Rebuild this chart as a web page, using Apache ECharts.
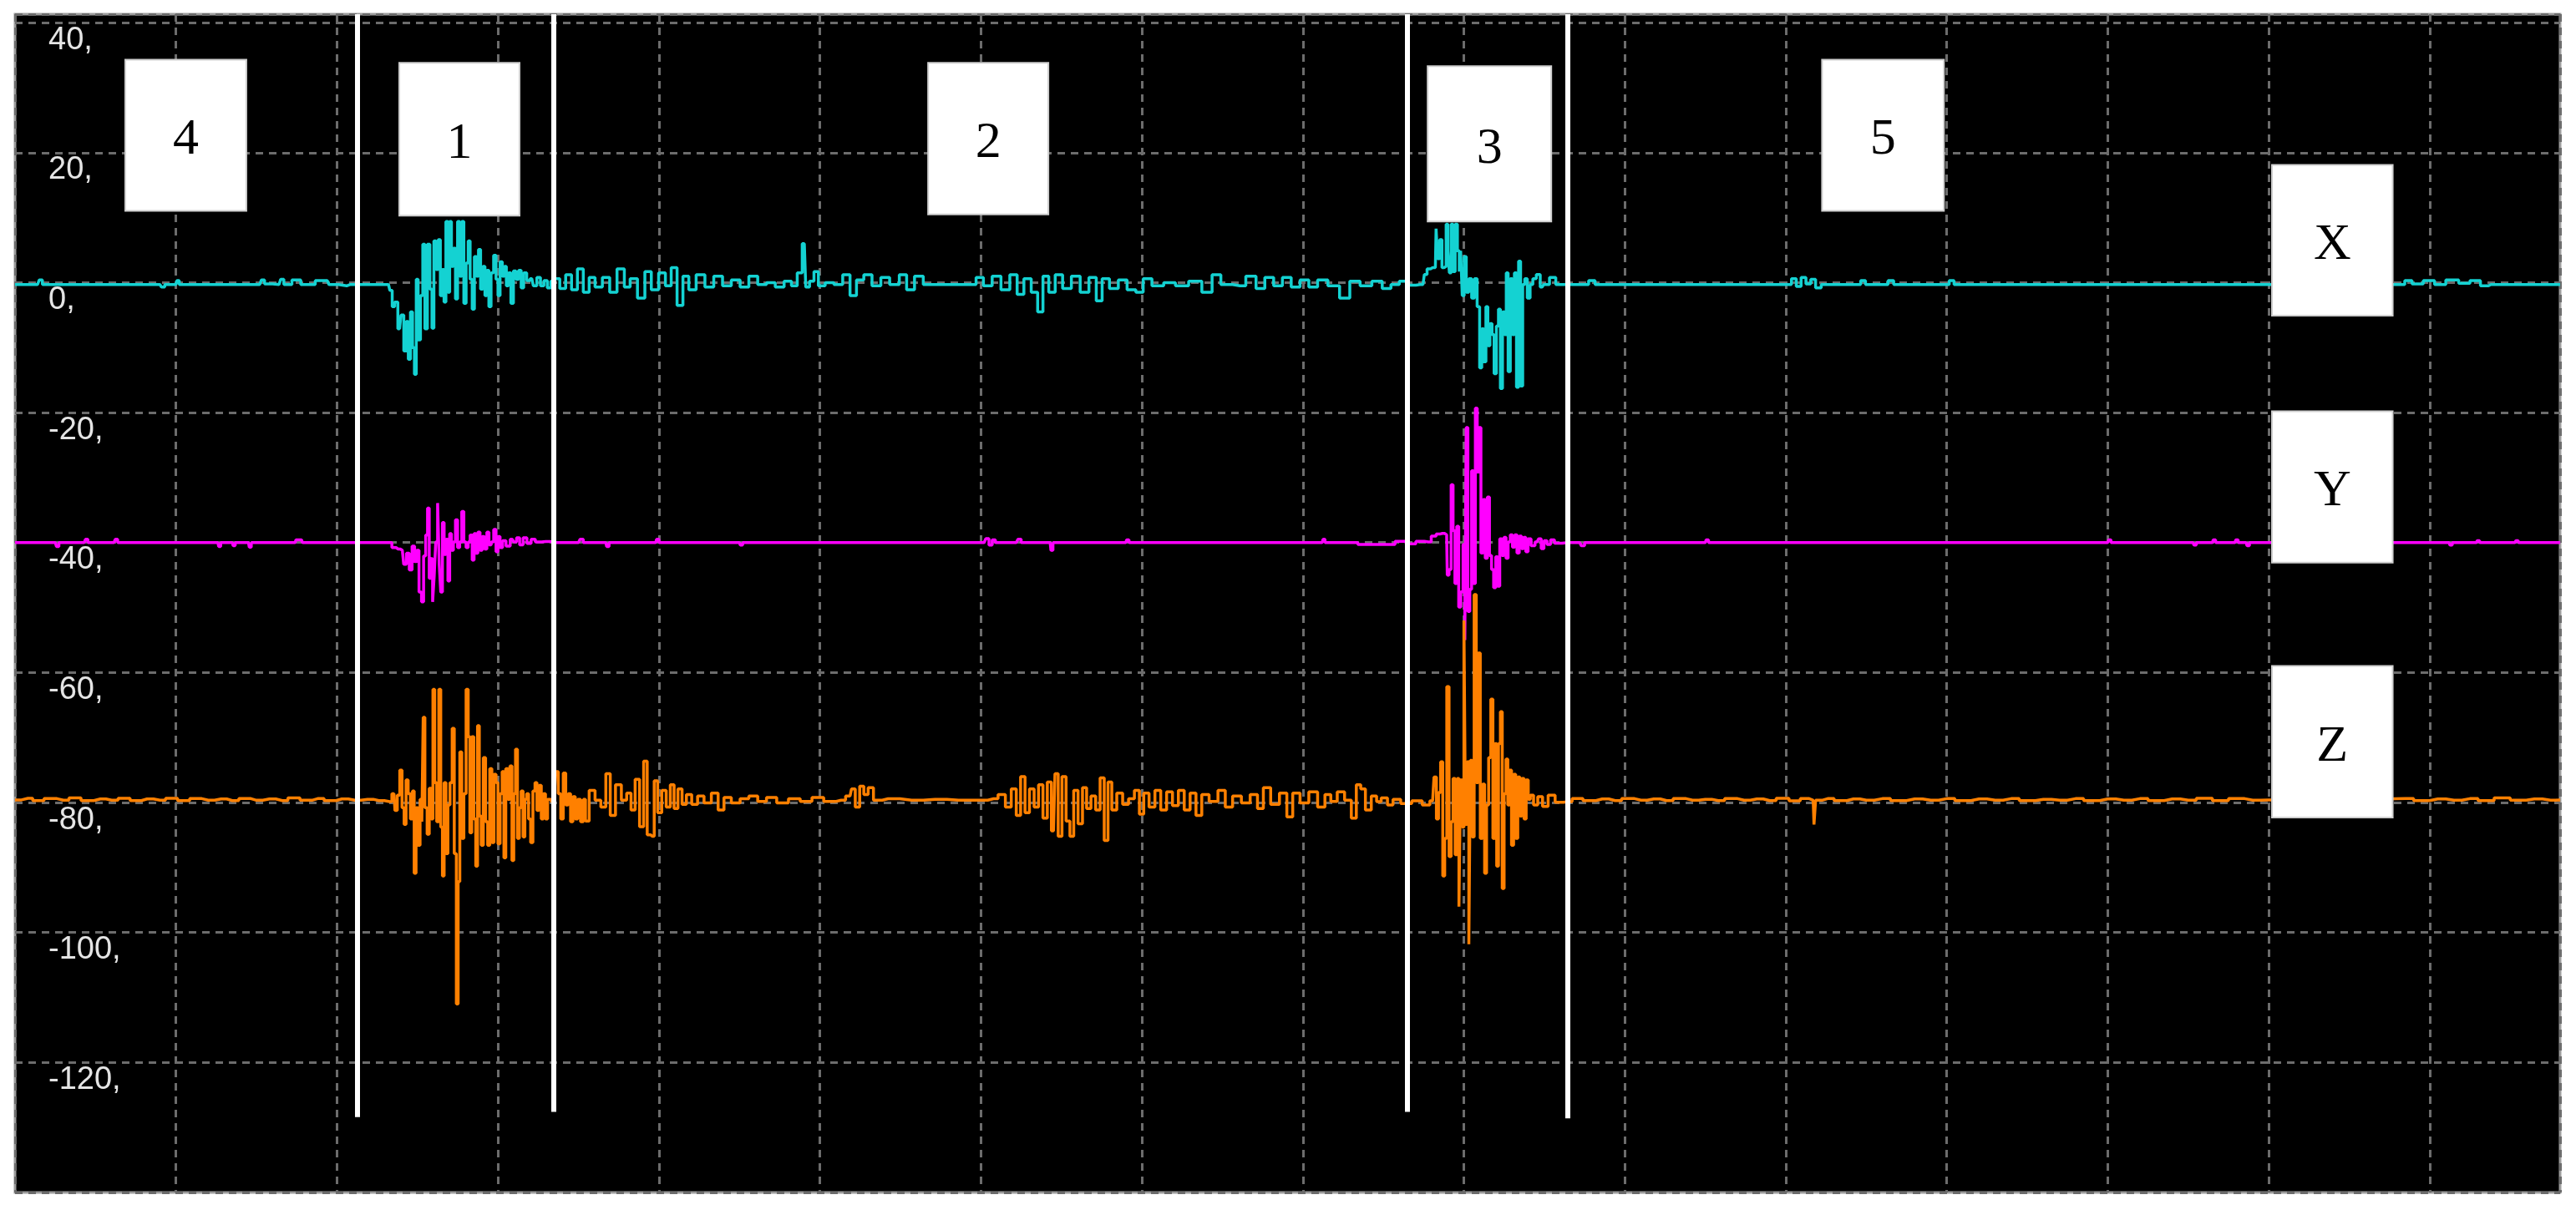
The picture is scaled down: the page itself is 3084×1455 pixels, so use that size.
<!DOCTYPE html>
<html><head><meta charset="utf-8">
<script src="https://cdn.jsdelivr.net/npm/echarts/dist/echarts.min.js"></script>
<style>html,body{margin:0;padding:0;background:#fff}#c{width:3084px;height:1455px}</style>
</head><body><div id="c"></div>
<script>
// Y axis tick values (labels are drawn with a trailing comma)
const yTicks = [40, 20, 0, -20, -40, -60, -80, -100, -120];

// X channel (cyan) : [time, value]
const sigX = [
[0,-0.3],[1.4,-0.3],[1.6,0.4],[1.8,-0.3],[9.0,-0.3],[9.2,-0.7],[9.4,-0.3],[10.0,-0.3],[10.1,0.3],[10.3,-0.3],[15.2,-0.3],[15.4,0.4],[15.6,-0.2],[16.4,-0.3],[16.6,0.5],[16.8,-0.3],[17.6,0.4],[17.9,-0.3],[19.4,0.3],[19.6,-0.3],[20.6,-0.5],[20.8,-0.3],[23.2,-0.3],
[23.37,-1.2],[23.49,-3.7],[23.67,-3.0],[23.89,-7.1],[24.06,-5.0],[24.24,-10.5],[24.36,-6.0],[24.5,-11.8],[24.63,-4.5],[24.75,-10.0],[24.87,-14.1],[24.98,0.5],[25.1,-8.8],[25.27,-2.0],[25.39,5.9],[25.53,-7.1],[25.7,5.9],[25.84,-1.0],[25.96,-7.0],[26.08,6.4],[26.22,2.0],[26.36,6.6],[26.48,-2.0],[26.6,2.0],[26.7,-3.0],[26.83,9.4],[26.95,-1.5],[27.05,9.4],[27.17,2.5],[27.29,5.3],[27.43,-2.5],[27.55,9.4],[27.69,1.0],[27.81,9.4],[27.95,-3.2],[28.09,3.0],[28.21,6.4],[28.33,0.5],[28.47,-4.1],[28.6,4.0],[28.73,1.0],[28.85,5.1],[28.99,-1.0],[29.13,2.5],[29.25,-2.0],[29.37,1.9],[29.5,-3.7],[29.64,1.5],[29.82,4.2],[29.94,0.5],[30.06,-2.0],[30.2,3.2],[30.34,1.0],[30.46,2.5],[30.58,-0.5],[30.72,1.5],[30.89,-3.2],[31.03,1.8],[31.2,0.5],[31.37,1.9],[31.51,-0.8],[31.68,1.5],[31.89,0.3],[32.1,0.6],[32.3,-0.5],[32.53,0.8],[32.75,-0.5],[32.96,0.3],[33.17,-0.8],[33.39,0.2],
[33.66,0.6],[34.02,-0.9],[34.39,1.2],[34.75,-1.1],[35.12,2.1],[35.48,-1.5],[35.85,0.8],[36.21,-0.7],[36.76,0.8],[37.12,-1.5],[37.67,2.1],[38.03,-0.7],[38.39,0.6],[38.94,-2.4],[39.31,1.7],[39.74,-1.1],[40.22,1.5],[40.58,-0.5],[40.94,2.3],[41.31,-3.5],[41.67,1.0],[42.04,-1.1],[42.58,1.2],[43.13,-0.7],[43.68,1.0],[44.22,-0.5],[44.77,0.4],[45.31,-0.7],[45.86,1.0],[46.41,-0.3],[46.95,0.0],[47.5,-0.7],[48.05,0.2],[48.41,-0.5],[48.77,1.5],[49.03,6.0],[49.21,-0.7],[49.5,0.2],[49.76,1.7],[50.05,-0.5],[50.6,0.0],[51.14,-0.3],[51.69,1.2],[52.05,-2.0],[52.49,0.4],[52.96,1.2],[53.51,-0.5],[54.06,0.8],[54.6,-0.3],[55.26,1.2],[55.51,-1.1],[56.24,1.0],[56.6,-0.3],[59.52,-0.3],[59.88,0.8],[60.43,-0.5],[60.97,1.0],[61.52,-1.1],[62.07,1.2],[62.43,-1.8],[62.91,0.6],[63.34,-1.5],[63.71,-4.5],[64.0,1.0],[64.43,-1.5],[64.8,1.2],[65.35,-0.9],[65.89,1.0],[66.44,-1.5],[66.98,0.8],[67.35,-2.8],[67.71,0.6],[68.26,-0.9],[68.81,0.4],[69.35,-1.1],[69.9,-1.5],[70.26,0.6],[70.99,-0.5],[71.72,0.0],[72.45,-0.5],[73.36,0.2],[74.09,-1.5],[74.63,1.2],[75.18,-0.3],[76.09,-0.5],[76.82,1.0],[77.36,-0.9],[77.91,0.8],[78.46,-0.5],[79.0,0.8],[79.55,-0.7],[80.1,0.4],[80.64,-0.7],[81.19,0.4],[81.92,-0.5],[82.64,-2.4],[83.19,0.2],[83.92,-0.5],[84.65,0.2],[85.21,-0.9],[85.73,-0.3],[86.25,0.2],[86.76,-0.4],[87.28,-0.3],[87.46,-0.3],
[87.63,1.25],[87.8,2.1],[88.06,2.3],[88.23,2.3],[88.32,8.3],[88.42,3.7],[88.58,6.6],[88.7,2.3],[88.84,2.5],[88.96,9.0],[89.05,4.9],[89.15,1.5],[89.27,9.0],[89.39,1.7],[89.53,9.0],[89.67,4.9],[89.76,1.7],[89.84,4.9],[89.96,-2.0],[90.08,4.0],[90.22,-1.5],[90.4,0.6],[90.57,-2.4],[90.74,0.6],[90.91,-3.7],[91.05,-13.1],[91.17,-7.1],[91.31,-12.2],[91.43,-3.7],[91.55,-9.7],[91.69,-6.3],[91.81,-8.0],[91.95,-14.0],[92.09,-6.7],[92.21,-4.1],[92.33,-16.3],[92.47,-4.5],[92.59,-8.0],[92.68,1.5],[92.82,-13.7],[92.95,0.6],[93.08,-8.0],[93.2,1.5],[93.34,-16.1],[93.46,3.3],[93.59,-15.9],[93.72,-0.3],[93.85,0.6],[94.03,-2.4],[94.2,-0.3],[94.37,0.6],[94.63,1.25],[94.86,-0.7],[95.06,-0.3],[95.58,0.8],[95.84,-0.3],
[97.5,-0.3],[98.0,0.3],[98.3,-0.3],[110.2,-0.3],[110.5,0.6],[110.8,-0.6],[111.1,0.8],[111.4,-0.2],[111.7,0.5],[112.0,-0.8],[112.4,-0.3],[114.5,-0.3],[114.8,0.3],[115.1,-0.3],[116.2,-0.3],[116.5,0.3],[116.9,-0.3],[120.0,-0.3],[120.3,0.3],[120.6,-0.3],[148.3,-0.3],[148.6,0.3],[149.2,-0.2],[150.0,0.3],[150.6,-0.3],[151.4,0.4],[152.2,-0.1],[152.8,0.3],[153.5,-0.5],[153.8,-0.3],[158.1,-0.3]
];

// Y channel (magenta)
const sigY = [
[0,-40],[2.5,-40],[2.65,-40.6],[2.8,-40],[4.3,-40],[4.45,-39.5],[4.6,-40],[6.15,-40],[6.3,-39.5],[6.45,-40],[12.6,-40],[12.7,-40.6],[12.85,-40],[13.5,-40],[13.6,-40.5],[13.75,-40],[14.5,-40],[14.6,-40.7],[14.75,-40],[17.4,-40],[17.5,-39.6],[17.8,-39.6],[17.9,-40],[23.28,-40],
[23.54,-40.77],[23.8,-40.99],[24.06,-41.2],[24.23,-43.34],[24.4,-41.63],[24.58,-44.2],[24.75,-40.56],[24.89,-42.91],[25.01,-41.2],[25.18,-47.63],[25.32,-49.13],[25.44,-42.06],[25.58,-38.84],[25.67,-34.69],[25.79,-45.48],[25.88,-42.49],[26.0,-49.13],[26.08,-45.06],[26.19,-39.91],[26.31,-33.92],[26.39,-43.34],[26.5,-47.63],[26.6,-36.92],[26.71,-41.84],[26.83,-39.49],[26.95,-45.91],[27.05,-38.63],[27.17,-41.2],[27.29,-39.91],[27.43,-36.49],[27.55,-40.77],[27.69,-39.91],[27.81,-35.2],[27.95,-39.91],[28.09,-40.77],[28.21,-39.91],[28.33,-38.84],[28.47,-42.7],[28.56,-38.63],[28.68,-41.63],[28.82,-38.41],[28.95,-41.2],[29.08,-39.07],[29.25,-40.99],[29.37,-38.41],[29.51,-40.34],[29.65,-39.91],[29.82,-37.99],[29.94,-41.41],[30.06,-39.07],[30.2,-40.77],[30.37,-39.7],[30.63,-40.56],[30.89,-39.49],[31.07,-39.91],[31.24,-39.27],[31.45,-40.34],[31.67,-39.27],[31.93,-40.13],[32.19,-39.49],[32.45,-39.91],[32.97,-39.83],[33.49,-40],
[35.0,-40],[35.2,-39.5],[35.4,-40],[36.7,-40],[36.8,-40.6],[37.0,-40],[39.8,-40],[39.9,-39.5],[40.1,-40],[45.0,-40],[45.1,-40.4],[45.3,-40],[60.2,-40],[60.4,-39.4],[60.6,-40.4],[60.8,-39.6],[61.0,-40],[62.2,-40],[62.4,-39.5],[62.6,-40],[64.3,-40],[64.4,-41.2],[64.55,-40],[69.0,-40],[69.1,-39.6],[69.3,-40],[81.2,-40],[81.3,-39.5],[81.45,-40],
[85.38,-40.3],[86.07,-39.8],[86.76,-40.2],[87.28,-39.8],[87.8,-39.9],[88.15,-39.0],[88.41,-38.67],[88.67,-38.59],[88.93,-38.8],[89.01,-45.0],[89.15,-44.16],[89.27,-31.09],[89.39,-38.16],[89.5,-46.3],[89.62,-37.5],[89.74,-49.94],[89.88,-47.58],[90.02,-40.3],[90.1,-55.0],[90.19,-22.3],[90.31,-50.6],[90.43,-47.2],[90.53,-28.95],[90.65,-46.3],[90.78,-19.3],[90.88,-29.16],[91.0,-22.3],[91.12,-41.6],[91.26,-33.4],[91.4,-42.4],[91.52,-33.0],[91.66,-42.0],[91.78,-44.16],[91.92,-46.94],[92.04,-42.2],[92.16,-46.7],[92.3,-39.44],[92.42,-42.0],[92.56,-39.2],[92.68,-42.4],[92.82,-39.9],[92.95,-38.8],[93.09,-40.7],[93.23,-38.8],[93.37,-41.6],[93.51,-39.0],[93.65,-40.94],[93.78,-39.2],[93.92,-41.4],[94.06,-39.44],[94.29,-40.5],[94.55,-39.9],[94.72,-39.44],[94.89,-40.94],[95.06,-39.7],[95.27,-40.3],[95.5,-39.6],[95.76,-40.1],[96.45,-40],
[97.2,-40],[97.4,-40.5],[97.6,-40],[105.0,-40],[105.1,-39.6],[105.3,-40],[130.0,-40],[130.1,-39.6],[130.3,-40],[135.3,-40],[135.4,-40.4],[135.6,-40],[136.5,-40],[136.6,-39.6],[136.8,-40],[137.9,-40],[138.0,-39.6],[138.2,-40],[138.6,-40],[138.7,-40.5],[138.9,-40],[151.2,-40],[151.3,-40.4],[151.5,-40],[152.9,-40],[153.0,-39.7],[153.2,-40],[155.3,-40],[155.4,-39.7],[155.6,-40],[158.1,-40]
];

// Z channel (orange)
const sigZ = [
[0,-79.6],[0.8,-79.35],[1.4,-79.7],[2.2,-79.4],[3.0,-79.65],[3.7,-79.3],[4.5,-79.7],[5.3,-79.45],[6.0,-79.65],[6.8,-79.35],[7.5,-79.7],[8.2,-79.45],[9.0,-79.65],[9.7,-79.35],[10.5,-79.7],[11.2,-79.4],[12.0,-79.65],[12.8,-79.45],[13.5,-79.7],[14.3,-79.4],[15.0,-79.65],[15.8,-79.45],[16.6,-79.7],[17.3,-79.3],[18.1,-79.65],[18.8,-79.4],[19.6,-79.7],[20.3,-79.45],[21.1,-79.65],[21.9,-79.5],[22.6,-79.7],[23.28,-79.86],
[23.54,-78.66],[23.66,-81.23],[23.83,-78.87],[23.97,-75.02],[24.11,-80.8],[24.23,-83.37],[24.35,-76.52],[24.49,-78.66],[24.63,-82.52],[24.75,-78.23],[24.84,-90.87],[24.98,-80.8],[25.1,-86.59],[25.22,-79.52],[25.32,-82.94],[25.39,-66.88],[25.53,-80.8],[25.67,-84.87],[25.79,-77.8],[25.91,-82.52],[26.01,-62.59],[26.13,-76.95],[26.26,-82.94],[26.39,-62.59],[26.5,-83.8],[26.6,-91.3],[26.71,-76.95],[26.83,-87.87],[26.95,-80.37],[27.09,-76.95],[27.22,-68.59],[27.35,-87.87],[27.48,-111.0],[27.57,-92.16],[27.69,-72.23],[27.81,-85.52],[27.95,-78.66],[28.09,-62.59],[28.21,-69.88],[28.3,-84.66],[28.44,-69.88],[28.56,-82.52],[28.68,-89.8],[28.78,-68.16],[28.9,-82.09],[29.02,-86.59],[29.16,-73.09],[29.3,-82.94],[29.42,-86.59],[29.56,-74.8],[29.68,-86.16],[29.82,-75.66],[29.94,-76.95],[30.06,-86.37],[30.2,-78.66],[30.32,-75.23],[30.42,-88.51],[30.55,-74.8],[30.68,-79.52],[30.81,-74.38],[30.93,-88.94],[31.03,-78.66],[31.15,-71.8],[31.27,-85.52],[31.38,-80.8],[31.5,-78.23],[31.62,-85.3],[31.72,-79.52],[31.84,-78.66],[31.96,-82.52],[32.1,-86.16],[32.24,-78.23],[32.36,-76.95],[32.48,-81.23],[32.62,-77.37],[32.76,-82.52],[32.88,-78.66],[33.02,-82.52],[33.14,-79.52],[33.49,-79.86],[33.66,-75.23],[33.83,-78.66],[33.97,-82.52],[34.14,-75.45],[34.28,-80.37],[34.44,-78.66],[34.58,-82.94],[34.73,-79.09],[34.87,-82.52],[35.04,-79.52],[35.22,-82.94],[35.39,-79.52],
[35.48,-82.85],[35.85,-78.14],[36.21,-79.64],[36.57,-80.71],[36.83,-75.57],[37.12,-81.99],[37.48,-77.28],[37.85,-79.64],[38.14,-78.56],[38.39,-81.14],[38.65,-76.42],[38.94,-83.71],[39.16,-73.64],[39.38,-84.99],[39.6,-85.21],[39.81,-76.64],[40.03,-81.56],[40.32,-78.14],[40.58,-80.71],[40.83,-77.28],[41.05,-80.92],[41.31,-77.92],[41.56,-80.28],[41.85,-78.78],[42.22,-80.28],[42.58,-78.99],[43.02,-80.06],[43.49,-78.56],[43.86,-81.14],[44.22,-79.21],[44.77,-80.06],[45.31,-79.42],[45.86,-78.99],[46.41,-79.85],[46.95,-79.21],[47.68,-80.06],[48.41,-79.42],[49.14,-79.85],[49.87,-79.21],[50.6,-79.85],[51.32,-79.64],[51.87,-78.99],[52.05,-77.92],[52.34,-80.71],[52.6,-77.49],[52.85,-78.78],[53.14,-77.71],[53.51,-79.64],[54.24,-79.42],[55.69,-79.64],[57.15,-79.51],[58.61,-79.64],[60.06,-79.64],[60.79,-79.42],[61.34,-78.78],[61.7,-80.71],[62.07,-77.92],[62.32,-81.99],[62.61,-76.0],[62.87,-81.56],[63.16,-77.92],[63.45,-80.71],[63.71,-77.28],[64.0,-82.42],[64.25,-76.85],[64.51,-84.35],[64.69,-75.57],[64.91,-85.21],[65.16,-76.0],[65.42,-82.85],[65.64,-85.21],[65.89,-78.14],[66.18,-83.28],[66.44,-77.71],[66.69,-80.92],[66.98,-78.99],[67.28,-81.14],[67.53,-76.21],[67.79,-85.85],[68.0,-76.85],[68.26,-81.14],[68.62,-78.56],[68.99,-80.28],[69.35,-79.42],[69.72,-78.14],[69.97,-81.78],[70.26,-78.56],[70.63,-80.71],[70.99,-78.14],[71.35,-81.14],[71.72,-78.35],[72.08,-80.49],[72.45,-78.14],[72.81,-81.14],[73.18,-78.56],[73.54,-81.99],[73.9,-78.78],[74.45,-79.85],[75.0,-78.14],[75.36,-80.71],[75.91,-78.99],[76.45,-80.06],[77.0,-78.78],[77.36,-80.92],[77.73,-77.71],[78.27,-80.28],[78.82,-78.56],[79.19,-82.21],[79.55,-78.56],[80.1,-80.06],[80.64,-78.35],[81.19,-80.71],[81.55,-78.78],[81.92,-79.85],[82.35,-78.35],[82.83,-79.64],[83.19,-82.42],[83.45,-77.28],[83.74,-77.92],[84.03,-81.14],[84.47,-78.99],
[84.69,-79.86],[85.04,-79.3],[85.47,-80.37],[85.73,-79.52],[86.42,-80.16],[87.11,-79.73],[87.72,-80.37],[88.06,-79.73],[88.23,-76.09],[88.36,-82.52],[88.49,-78.45],[88.63,-73.73],[88.75,-91.3],[88.87,-85.52],[89.01,-62.17],[89.15,-88.3],[89.27,-82.94],[89.39,-76.3],[89.53,-88.04],[89.65,-76.3],[89.74,-96.01],[89.84,-76.52],[89.96,-83.8],[90.05,-52.0],[90.15,-83.37],[90.26,-73.73],[90.36,-101.8],[90.45,-73.52],[90.57,-85.3],[90.71,-48.0],[90.83,-76.95],[90.95,-57.0],[91.09,-85.52],[91.23,-77.16],[91.35,-90.87],[91.47,-80.37],[91.61,-73.09],[91.74,-64.09],[91.87,-85.52],[91.99,-70.95],[92.09,-89.8],[92.21,-70.95],[92.33,-66.02],[92.44,-93.23],[92.56,-78.66],[92.68,-73.3],[92.78,-80.37],[92.9,-75.02],[93.02,-86.59],[93.16,-75.66],[93.28,-85.52],[93.42,-76.09],[93.54,-82.09],[93.68,-76.3],[93.8,-82.52],[93.94,-76.52],[94.06,-79.52],[94.2,-78.87],[94.46,-80.37],[94.72,-79.09],[95.06,-80.59],[95.41,-78.87],[95.93,-79.95],[96.45,-79.86],
[97.0,-79.4],[97.8,-79.7],[98.6,-79.45],[99.4,-79.7],[100.2,-79.4],[101.0,-79.65],[101.8,-79.45],[102.6,-79.7],[103.4,-79.4],[104.2,-79.65],[105.0,-79.5],[105.8,-79.7],[106.6,-79.4],[107.4,-79.65],[108.2,-79.45],[109.0,-79.7],[109.8,-79.35],[110.6,-79.75],[111.2,-79.4],[111.7,-79.65],[111.8,-83.4],[111.9,-79.65],[112.6,-79.4],[113.4,-79.7],[114.2,-79.45],[115.0,-79.65],[116.0,-79.4],[117.0,-79.7],[118.0,-79.45],[119.0,-79.65],[120.0,-79.4],[121.0,-79.7],[122.0,-79.45],[123.0,-79.65],[124.0,-79.4],[125.0,-79.7],[126.0,-79.5],[127.0,-79.65],[128.0,-79.4],[129.0,-79.7],[130.0,-79.45],[131.0,-79.65],[132.0,-79.4],[133.0,-79.7],[134.0,-79.45],[135.0,-79.65],[136.0,-79.35],[137.0,-79.7],[138.0,-79.4],[139.0,-79.65],[140.0,-79.6],[148.5,-79.4],[149.5,-79.7],[150.5,-79.45],[151.5,-79.65],[152.5,-79.4],[153.5,-79.7],[154.5,-79.3],[155.5,-79.65],[156.5,-79.45],[157.5,-79.65],[158.1,-79.6]
];

// Phase separators (time) and their lower ends (value)
const phaseBounds = [21.28, 33.47, 86.46, 96.42];
const phaseBoundEnds = [-128.4, -127.6, -127.6, -128.6];
// Phase labels and their box extents [t0, t1, vTop, vBottom]
const phaseLabels = ['4', '1', '2', '3', '5'];
const phaseBoxes = [[6.85,14.37,34.3,11.05],[23.87,31.34,33.8,10.3],[56.72,64.19,33.8,10.5],[87.75,95.43,33.3,9.4],[112.25,119.82,34.3,11.05]];
// Channel labels and their box extents
const channelLabels = ['X', 'Y', 'Z'];
const channelBoxes = [[140.2,147.7,18.1,-5.1],[140.2,147.7,-19.8,-43.1],[140.2,147.7,-59.0,-82.3]];

const X_MIN = 0, X_MAX = 158.1, Y_MIN = -140, Y_MAX = 41.3;

const chart = echarts.init(document.getElementById('c'), null, {renderer: 'canvas'});
const grid = {left: 18, right: 19, top: 17, bottom: 27, show: true, backgroundColor: '#000', borderColor: '#9c9c9c', borderWidth: 3};
const split = {show: true, lineStyle: {color: '#6c6c6c', width: 3, type: [9, 7]}};

function sig(name, data, color) {
  return {name, type: 'line', data, showSymbol: false, symbol: 'none', z: 2, step: 'middle',
    lineStyle: {color, width: 3.5}, itemStyle: {color}, animation: false, silent: true};
}
const boxLabelStyle = {show: true, position: 'inside', fontFamily: 'Liberation Serif', fontSize: 62, color: '#000', offset: [0, 6]};
function boxes(labels, ext) {
  return labels.map((l, i) => [
    {name: l, coord: [ext[i][0], ext[i][2]]},
    {coord: [ext[i][1], ext[i][3]]}
  ]);
}

chart.setOption({
  animation: false,
  backgroundColor: '#fff',
  grid,
  xAxis: {type: 'value', min: X_MIN, max: X_MAX, interval: 10,
    axisLine: {show: false}, axisTick: {show: false}, axisLabel: {show: false}, splitLine: split},
  yAxis: {type: 'value', min: Y_MIN, max: Y_MAX, interval: 20,
    axisLine: {show: false}, axisTick: {show: false}, splitLine: split,
    axisLabel: {inside: true, margin: 40, color: '#e4e4e4', fontFamily: 'Liberation Sans', fontSize: 38,
      verticalAlign: 'top', lineHeight: 38, padding: [2, 0, 0, 0],
      formatter: v => yTicks.indexOf(v) >= 0 ? v + ',' : ''}},
  series: [
    sig('X', sigX, '#14d2d2'),
    sig('Y', sigY, '#ff00ff'),
    sig('Z', sigZ, '#ff8000'),
    {type: 'line', data: [], z: 15, silent: true,
      markLine: {silent: true, z: 15, symbol: ['none', 'none'], animation: false, label: {show: false},
        lineStyle: {color: '#ffffff', width: 6, type: 'solid'},
        data: phaseBounds.map((t, i) => [{coord: [t, Y_MAX]}, {coord: [t, phaseBoundEnds[i]]}])}},
    {type: 'line', data: [], z: 20, silent: true,
      markArea: {silent: true, z: 20, animation: false,
        itemStyle: {color: '#ffffff', opacity: 1, borderColor: '#cfcfcf', borderWidth: 2},
        label: boxLabelStyle,
        data: boxes(phaseLabels, phaseBoxes).concat(boxes(channelLabels, channelBoxes))}}
  ]
});
</script>
</body></html>
